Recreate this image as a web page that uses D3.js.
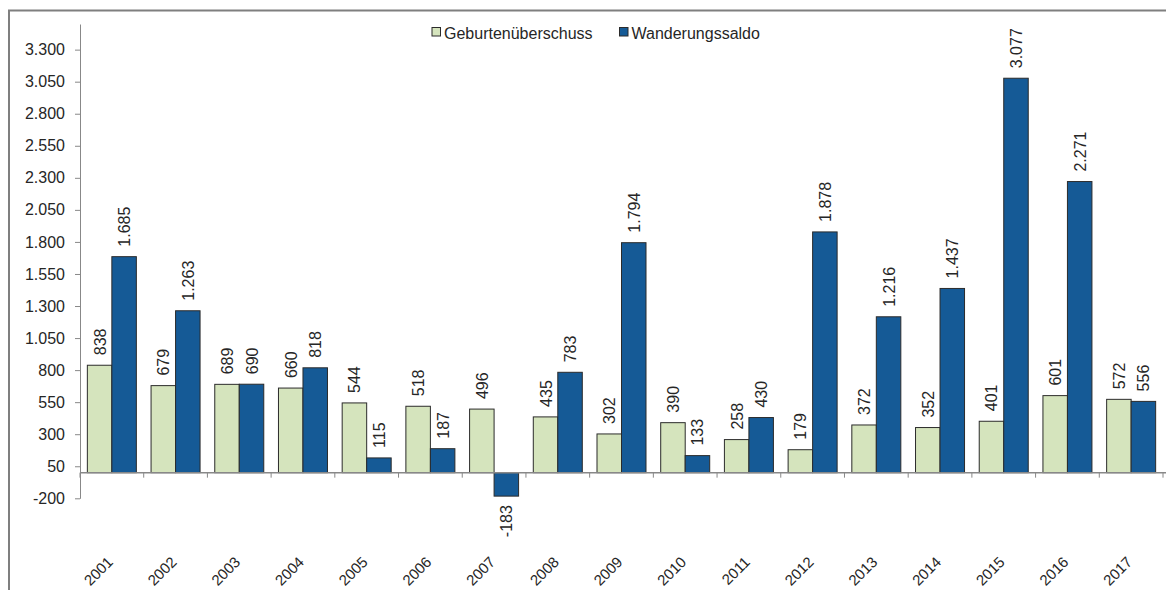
<!DOCTYPE html>
<html>
<head>
<meta charset="utf-8">
<script src="https://cdn.jsdelivr.net/npm/d3@7"></script>
<style>
  body { margin: 0; background: #fff; }
  text { font-family: "Liberation Sans", Arial, sans-serif; }
</style>
</head>
<body>
<div id="chart"></div>
<script>
// Data
const years = ['2001', '2002', '2003', '2004', '2005', '2006', '2007', '2008', '2009',
               '2010', '2011', '2012', '2013', '2014', '2015', '2016', '2017'];
const geburten = [838, 679, 689, 660, 544, 518, 496, 435, 302, 390, 258, 179, 372, 352, 401, 601, 572];
const wanderung = [1685, 1263, 690, 818, 115, 187, -183, 783, 1794, 133, 430, 1878, 1216, 1437, 3077, 2271, 556];
const yTicks = [-200, 50, 300, 550, 800, 1050, 1300, 1550, 1800, 2050, 2300, 2550, 2800, 3050, 3300];
const seriesNames = ['Geburtenüberschuss', 'Wanderungssaldo'];
const seriesColors = ['#d5e4bd', '#155a96'];

const series = [geburten, wanderung];

const de = d3.formatLocale({ decimal: ',', thousands: '.', grouping: [3], currency: ['', '€'], minus: '-' });
const fmt = de.format(',d');

const width = 1166, height = 590;

const svg = d3.select('#chart')
    .append('svg')
        .attr('width', width)
        .attr('height', height);

// outer frame (continues beyond the visible area)
svg.append('path')
    .attr('d', 'M9,600 V10.5 H1180')
    .attr('fill', 'none')
    .attr('stroke', '#7f7f7f')
    .attr('stroke-width', 2);

// scales
const x = d3.scaleBand()
    .domain(years)
    .range([80, 1163]);

const xs = d3.scaleBand()
    .domain(seriesNames)
    .range([0, x.bandwidth()])
    .paddingOuter(0.3);

const y = d3.scaleLinear()
    .domain([-200, 3500])
    .range([498.3, 24]);

// y axis
const yAxis = svg.append('g')
    .attr('transform', 'translate(80,0)')
    .call(d3.axisLeft(y).tickValues(yTicks).tickSize(5).tickSizeOuter(0).tickPadding(10).tickFormat(fmt));
yAxis.select('.domain').attr('stroke', '#888');
yAxis.selectAll('.tick line').attr('stroke', '#888');
yAxis.selectAll('.tick text')
    .attr('fill', '#262626')
    .style('font-size', '16px')
    .style('font-family', '"Liberation Sans", Arial, sans-serif');

// bars
const groups = svg.selectAll('.year')
    .data(years)
    .enter()
    .append('g')
        .attr('class', 'year')
        .attr('transform', d => `translate(${x(d)},0)`);

seriesNames.forEach((name, si) => {
    groups.append('rect')
        .attr('x', xs(name))
        .attr('y', (d, i) => y(Math.max(series[si][i], 0)))
        .attr('width', xs.bandwidth())
        .attr('height', (d, i) => Math.abs(y(series[si][i]) - y(0)))
        .attr('fill', seriesColors[si])
        .attr('stroke', '#2b2b2b')
        .attr('stroke-width', 1);
});

// x axis line and category ticks
svg.append('line')
    .attr('x1', x.range()[0])
    .attr('x2', x.range()[1] + 4)
    .attr('y1', y(0))
    .attr('y2', y(0))
    .attr('stroke', '#888')
    .attr('stroke-width', 1.5);

svg.selectAll('.xtick')
    .data(years.concat(['end']))
    .enter()
    .append('line')
        .attr('x1', (d, i) => x.range()[0] + i * x.step())
        .attr('x2', (d, i) => x.range()[0] + i * x.step())
        .attr('y1', y(0))
        .attr('y2', y(0) + 5)
        .attr('stroke', '#888');

// x labels
svg.selectAll('.xlabel')
    .data(years)
    .enter()
    .append('text')
        .attr('text-anchor', 'end')
        .attr('transform', d => `translate(${x(d) + x.bandwidth() / 2 + 2},563) rotate(-45)`)
        .attr('fill', '#262626')
        .style('font-size', '15px')
        .text(d => d);

// value labels
seriesNames.forEach((name, si) => {
    groups.append('text')
        .attr('text-anchor', (d, i) => series[si][i] < 0 ? 'end' : 'start')
        .attr('transform', (d, i) => {
            const v = series[si][i];
            const cx = xs(name) + xs.bandwidth() / 2 + 6;
            const cy = v < 0 ? y(v) + 9 : y(v) - 10;
            return `translate(${cx},${cy}) rotate(-90)`;
        })
        .attr('fill', '#262626')
        .style('font-size', '16px')
        .text((d, i) => fmt(series[si][i]));
});

// legend
const legend = svg.append('g');
const legendX = [432, 619.5];
seriesNames.forEach((name, si) => {
    legend.append('rect')
        .attr('x', legendX[si])
        .attr('y', 27.5)
        .attr('width', 8.5)
        .attr('height', 8.5)
        .attr('fill', seriesColors[si])
        .attr('stroke', '#2b2b2b');
    legend.append('text')
        .attr('x', legendX[si] + 12)
        .attr('y', 39)
        .attr('fill', '#262626')
        .style('font-size', '16px')
        .text(name);
});
</script>
</body>
</html>
